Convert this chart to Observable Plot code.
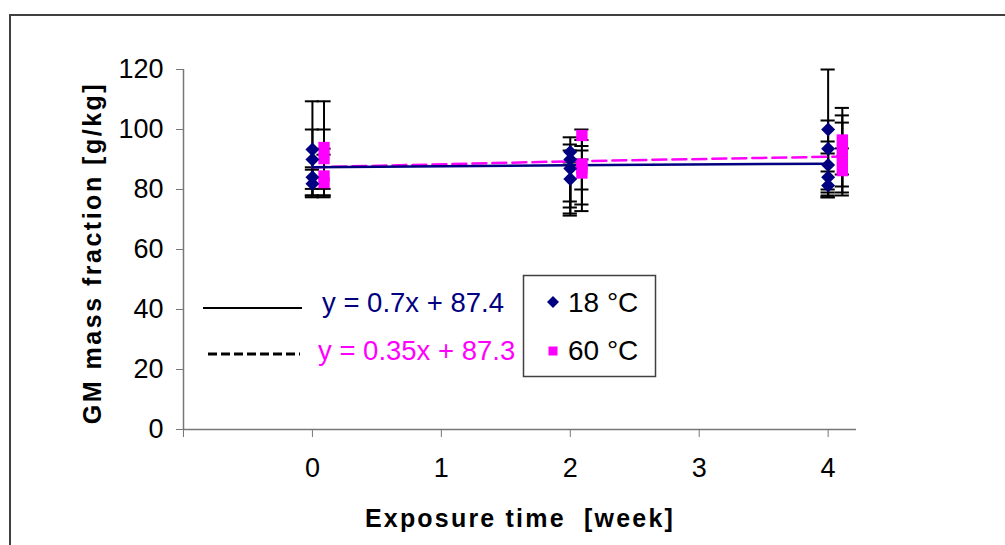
<!DOCTYPE html>
<html><head><meta charset="utf-8">
<script src="https://cdn.jsdelivr.net/npm/d3@7"></script>
<script src="https://cdn.jsdelivr.net/npm/@observablehq/plot@0.6"></script>
<style>body{margin:0;background:#fff} svg{display:block}</style>
</head><body><div id="chart"></div>
<script>
// 18 °C series (blue diamonds) with error bars
const weeks18 = [0, 0, 0, 0, 2, 2, 2, 2, 4, 4, 4, 4, 4];
const gm18 = [93.3, 90.0, 84.1, 81.9, 92.5, 90.0, 87.0, 83.5, 100.0, 93.6, 88.2, 84.1, 81.3];
const lo18 = [78.0, 80.2, 78.0, 77.4, 72.0, 71.3, 76.0, 74.0, 80.0, 77.4, 79.0, 78.0, 77.4];
const hi18 = [109.4, 100.0, 87.4, 86.6, 97.4, 95.0, 93.0, 89.0, 120.0, 103.0, 96.0, 92.0, 86.0];
// 60 °C series (magenta squares) with error bars
const weeks60 = [0.09, 0.09, 0.09, 0.09, 2.09, 2.09, 2.09, 2.09, 4.11, 4.11, 4.11, 4.11];
const gm60 = [94.0, 90.3, 84.5, 82.3, 98.0, 88.5, 87.0, 85.5, 96.5, 93.0, 90.0, 86.3];
const lo60 = [78.0, 80.2, 77.4, 78.0, 94.5, 72.8, 75.0, 80.0, 85.0, 81.0, 79.0, 78.0];
const hi60 = [109.4, 100.0, 91.6, 93.6, 100.0, 96.5, 93.0, 90.0, 107.2, 104.7, 102.3, 93.7];
// trend lines as drawn
const fitWeeks18 = [0, 2, 4];
const fit18 = [87.4, 88.1, 88.6];
const fitWeeks60 = [0, 2, 4.11];
const fit60 = [87.4, 89.4, 91.0];
// ticks and texts
const xTicks = [-1, 0, 1, 2, 3, 4];
const yTicks = [0, 20, 40, 60, 80, 100, 120];
const xTitle = "Exposure time  [week]";
const yTitle = "GM mass fraction [g/kg]";
const eq18 = "y = 0.7x + 87.4";
const eq60 = "y = 0.35x + 87.3";
const seriesNames = ["18 °C", "60 °C"];

const d18 = weeks18.map((w, i) => ({week: w, gm: gm18[i], lo: lo18[i], hi: hi18[i]}));
const d60 = weeks60.map((w, i) => ({week: w, gm: gm60[i], lo: lo60[i], hi: hi60[i]}));
const f18 = fitWeeks18.map((w, i) => ({week: w, gm: fit18[i]}));
const f60 = fitWeeks60.map((w, i) => ({week: w, gm: fit60[i]}));

const cap = 0.055;
const font = "'Liberation Sans', Arial, sans-serif";
const errMarks = (d) => [
  Plot.ruleX(d, {x: "week", y1: "lo", y2: "hi", stroke: "black", strokeWidth: 2}),
  Plot.ruleY(d, {y: "hi", x1: r => r.week - cap, x2: r => r.week + cap, stroke: "black", strokeWidth: 2}),
  Plot.ruleY(d, {y: "lo", x1: r => r.week - cap, x2: r => r.week + cap, stroke: "black", strokeWidth: 2})
];

const chart = Plot.plot({
  width: 1005, height: 545,
  marginLeft: 183, marginRight: 149, marginTop: 69, marginBottom: 116,
  x: {domain: [-1, 4.22]},
  y: {domain: [0, 120]},
  style: {fontFamily: font, fontSize: "27px", color: "black", background: "white"},
  marks: [
    Plot.ruleX([-1], {stroke: "#777", strokeWidth: 1.5}),
    Plot.ruleY([0], {stroke: "#777", strokeWidth: 1.5}),
    Plot.axisY({ticks: yTicks, tickSize: 7, tickPadding: 13, fontSize: 27, stroke: "#777", fill: "black", label: null}),
    Plot.axisX({ticks: xTicks, tickSize: 8, tickPadding: 20, fontSize: 27, stroke: "#777", fill: "black", label: null,
      tickFormat: d => d < 0 ? "" : String(d)}),
    ...errMarks(d18),
    ...errMarks(d60),
    Plot.line(f60, {x: "week", y: "gm", stroke: "#FF00FF", strokeWidth: 2.5, strokeDasharray: "14,6"}),
    Plot.line(f18, {x: "week", y: "gm", stroke: "#000080", strokeWidth: 2.5}),
    Plot.dot(d60, {x: "week", y: "gm", symbol: "square", r: 6.4, fill: "#FF00FF", stroke: "none"}),
    Plot.dot(d18, {x: "week", y: "gm", symbol: "diamond2", r: 6.3, fill: "#000080", stroke: "none"})
  ]
});
document.getElementById("chart").appendChild(chart);

const svg = d3.select(chart);
// outer frame
svg.append("rect").attr("x", 10).attr("y", 15).attr("width", 1010).attr("height", 560)
  .attr("fill", "none").attr("stroke", "#404040").attr("stroke-width", 2);
// axis titles
svg.append("text").attr("x", 520).attr("y", 527).attr("text-anchor", "middle")
  .attr("font-family", font).attr("font-weight", "bold").attr("font-size", 25)
  .attr("letter-spacing", 2.2).attr("fill", "black").text(xTitle);
svg.append("text").attr("transform", "translate(101,253) rotate(-90)").attr("text-anchor", "middle")
  .attr("font-family", font).attr("font-weight", "bold").attr("font-size", 25)
  .attr("letter-spacing", 2.5).attr("fill", "black").text(yTitle);
// trendline legend
svg.append("line").attr("x1", 203).attr("x2", 302).attr("y1", 308).attr("y2", 308)
  .attr("stroke", "black").attr("stroke-width", 2);
svg.append("line").attr("x1", 208).attr("x2", 300).attr("y1", 354).attr("y2", 354)
  .attr("stroke", "black").attr("stroke-width", 3).attr("stroke-dasharray", "9,4");
svg.append("text").attr("x", 322).attr("y", 312).attr("text-anchor", "start").attr("font-family", font).attr("font-size", 27.5)
  .attr("fill", "#000080").text(eq18);
svg.append("text").attr("x", 318).attr("y", 360).attr("text-anchor", "start").attr("font-family", font).attr("font-size", 27.5)
  .attr("fill", "#FF00FF").text(eq60);
// series legend box
svg.append("rect").attr("x", 523.5).attr("y", 275.5).attr("width", 132).attr("height", 101)
  .attr("fill", "white").attr("stroke", "#404040").attr("stroke-width", 1.5);
svg.append("path").attr("d", "M553,296 L559,302 L553,308 L547,302 Z").attr("fill", "#000080");
svg.append("rect").attr("x", 548.5).attr("y", 346.5).attr("width", 9).attr("height", 9).attr("fill", "#FF00FF");
svg.append("text").attr("x", 568).attr("y", 312).attr("text-anchor", "start").attr("font-family", font).attr("font-size", 28)
  .attr("fill", "black").text(seriesNames[0]);
svg.append("text").attr("x", 568).attr("y", 360).attr("text-anchor", "start").attr("font-family", font).attr("font-size", 28)
  .attr("fill", "black").text(seriesNames[1]);
</script>
</body></html>
